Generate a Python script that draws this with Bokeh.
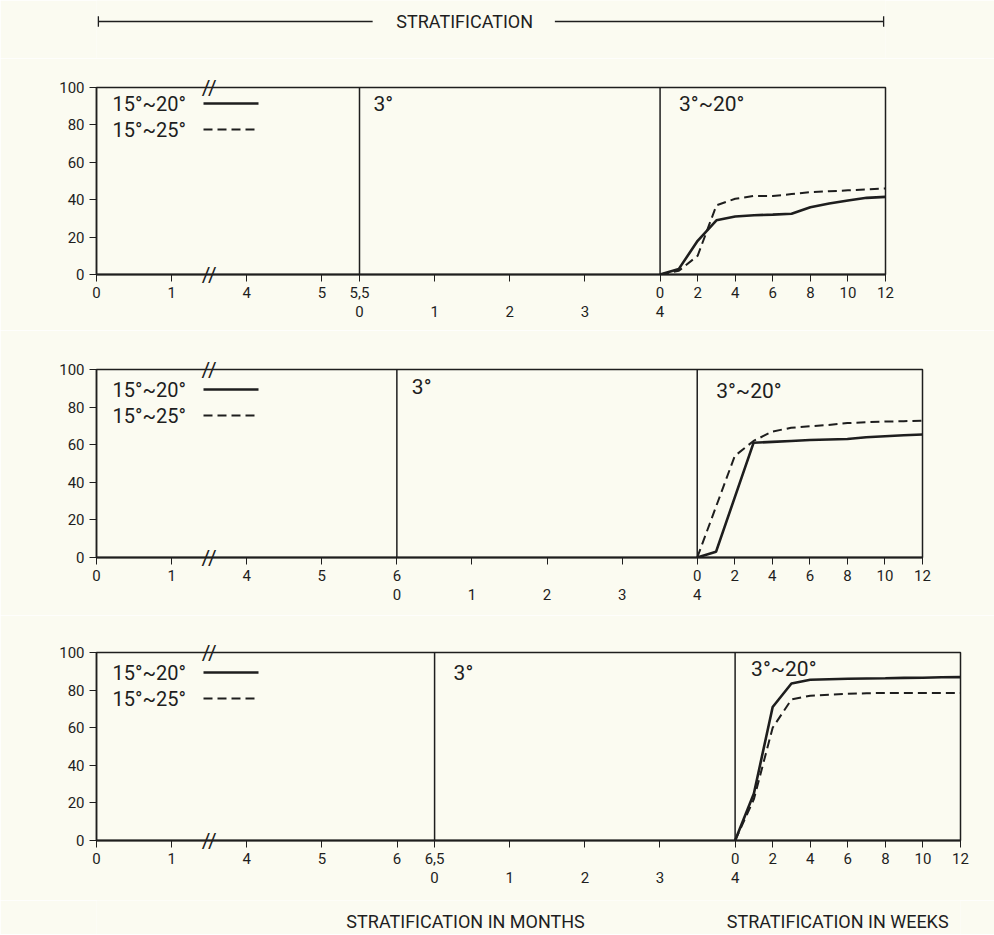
from bokeh.plotting import figure
from bokeh.models import Range1d, FixedTicker, LinearAxis, Span, Label, Arrow
from bokeh.layouts import column
from bokeh.embed import file_html
from bokeh.resources import INLINE

# ---------------- data (germinative capacity, %) ----------------
weeks = [0, 1, 2, 3, 4, 5, 6, 7, 8, 9, 10, 11, 12]

p1_solid = [0, 3, 18, 29, 31, 31.7, 32, 32.5, 36, 38, 39.6, 41, 41.5]
p1_dashed = [0, 2, 10, 37, 40.5, 42, 42, 43, 44, 44.5, 45, 45.5, 46]

p2_solid = [0, 3, 32, 61, 61.5, 62, 62.5, 62.8, 63, 64, 64.5, 65, 65.4]
p2_dashed = [0, 27, 54, 62, 67, 69, 69.8, 70.5, 71.5, 72, 72.3, 72.5, 72.8]

p3_solid = [0, 25, 71, 83.5, 85.5, 85.8, 86, 86.2, 86.3, 86.5, 86.6, 86.8, 86.9]
p3_dashed = [0, 22, 60, 75, 77, 77.5, 78, 78.3, 78.5, 78.5, 78.5, 78.5, 78.5]

# tick labels
months_a_1 = [0, 1, 4, 5, 5.5]
months_a_2 = [0, 1, 4, 5, 6]
months_a_3 = [0, 1, 4, 5, 6, 6.5]
months_b = [0, 1, 2, 3, 4]
week_ticks = [0, 2, 4, 6, 8, 10, 12]
y_ticks = [0, 20, 40, 60, 80, 100]

series_labels = ["15°~20°", "15°~25°"]
phase_labels = ["3°", "3°~20°"]
header_text = "STRATIFICATION"
footer_labels = ["STRATIFICATION IN MONTHS", "STRATIFICATION IN WEEKS"]

# ---------------- style ----------------
BG = "#fbfbf1"
INK = "#1e1e1e"
FONT = "Roboto"
PX = 18.78        # pixels per week unit (1 month = 4 week units)
LEFT = 96
TOTAL_W = 994


def a_pos(m, start):
    # month axis with a break between 1 and 4
    return float(start + 4 * (m if m <= 1 else m - 2))


def fmt(m):
    return str(int(m)) if m == int(m) else str(m).replace(".", ",")


def plain_axis(ticks, labels, standoff, size="15px"):
    return LinearAxis(ticker=FixedTicker(ticks=ticks),
                      major_label_overrides=dict(zip(ticks, labels)),
                      axis_line_color=None, major_tick_line_color=None,
                      minor_tick_line_color=None, major_tick_out=0, major_tick_in=0,
                      major_label_standoff=standoff, major_label_text_font=FONT,
                      major_label_text_font_size=size, major_label_text_color=INK)


def make_panel(months_a, solid, dashed, top, fh, bottom, legend_dy, phase_dy):
    la = 4 * (months_a[-1] - 2)
    start = -(la + 16)
    units = 12 - start
    fw = round(units * PX)
    p = figure(x_range=Range1d(start, 12), y_range=Range1d(0, 100),
               frame_width=fw, frame_height=fh,
               min_border_left=LEFT, min_border_right=TOTAL_W - LEFT - fw,
               min_border_top=top, min_border_bottom=bottom,
               toolbar_location=None, output_backend="svg",
               background_fill_color=BG, border_fill_color=BG,
               outline_line_color=INK, outline_line_width=1.5)
    p.grid.visible = False

    # main x axis: months (phase I), week ticks (phase III)
    b_pos = [float(-16 + 4 * m) for m in months_b]
    ticks = {}
    for pos in b_pos:
        ticks[pos] = ""
    for m in months_a:
        ticks[a_pos(m, start)] = fmt(m)
    for w in week_ticks:
        ticks[float(w)] = str(w)
    xa = p.xaxis[0]
    xa.ticker = FixedTicker(ticks=sorted(ticks))
    xa.major_label_overrides = ticks
    xa.minor_tick_line_color = None
    xa.major_tick_out = 7
    xa.major_tick_in = 0
    xa.major_label_standoff = 5
    xa.axis_line_color = INK
    xa.axis_line_width = 1.8
    xa.major_tick_line_color = INK
    xa.major_label_text_font = FONT
    xa.major_label_text_font_size = "15px"
    xa.major_label_text_color = INK

    # second row: months of phase II (3°)
    p.add_layout(plain_axis(b_pos, [str(m) for m in months_b], 5), "below")

    # axis-break marks on the bottom and top borders
    brk = [float(start + 6)]
    p.add_layout(plain_axis(brk, ["//"], -57, "21px"), "below")
    p.add_layout(plain_axis(brk, ["//"], -12, "21px"), "above")

    ya = p.yaxis[0]
    ya.ticker = FixedTicker(ticks=y_ticks)
    ya.minor_tick_line_color = None
    ya.major_tick_out = 7
    ya.major_tick_in = 0
    ya.major_label_standoff = 5
    ya.axis_line_color = INK
    ya.axis_line_width = 1.5
    ya.major_tick_line_color = INK
    ya.major_label_text_font = FONT
    ya.major_label_text_font_size = "15px"
    ya.major_label_text_color = INK

    # phase dividers
    for loc in (-16, 0):
        p.add_layout(Span(location=loc, dimension="height", line_color=INK, line_width=1.5))

    # curves
    p.line(weeks, solid, line_color=INK, line_width=2.6)
    p.line(weeks, dashed, line_color=INK, line_width=2, line_dash="9 5")

    # legend (label then key, as in the original)
    for i, (lab, dash, lw) in enumerate(zip(series_labels, ["solid", "9 5"], [2.6, 2])):
        yy = fh - legend_dy - 26 * i
        p.add_layout(Label(x=16, y=yy, x_units="screen", y_units="screen", text=lab,
                           text_baseline="middle", text_font=FONT,
                           text_font_size="20px", text_color=INK))
        p.add_layout(Arrow(x_start=107, y_start=yy, x_end=162, y_end=yy,
                           start_units="screen", end_units="screen", end=None,
                           line_color=INK, line_width=lw, line_dash=dash))

    # phase titles
    for loc, lab, (dx, dy) in zip((-16, 0), phase_labels, phase_dy):
        p.add_layout(Label(x=loc, x_offset=dx, y=fh - dy, y_units="screen", text=lab,
                           text_baseline="middle", text_font=FONT,
                           text_font_size="21px", text_color=INK))
    return p


def text_strip(x_start, height, y_text, texts, xs, size):
    units = 12 - x_start
    fw = round(units * PX)
    f = figure(x_range=Range1d(x_start, 12), y_range=Range1d(0, 1),
               frame_width=fw, frame_height=height,
               min_border_left=LEFT, min_border_right=TOTAL_W - LEFT - fw,
               min_border_top=0, min_border_bottom=0,
               x_axis_location=None, y_axis_location=None,
               toolbar_location=None, output_backend="svg",
               background_fill_color=BG, border_fill_color=BG, outline_line_color=None)
    f.grid.visible = False
    yy = 1 - y_text / height
    for x, t in zip(xs, texts):
        f.add_layout(Label(x=x, y=yy, text=t, text_align="center", text_baseline="middle",
                           text_font=FONT, text_font_size=size, text_color=INK))
    return f, yy


# header: STRATIFICATION with bracket line
h, hy = text_strip(-30, 58, 21, [header_text], [-10.4], "18px")
h.segment(x0=[-29.9, -5.6], y0=[hy, hy], x1=[-15.3, 11.9], y1=[hy, hy],
          line_color=INK, line_width=1.3)
h.segment(x0=[-29.9, 11.9], y0=[hy - 0.09, hy - 0.09], x1=[-29.9, 11.9], y1=[hy + 0.09, hy + 0.09],
          line_color=INK, line_width=1.3)

p1 = make_panel(months_a_1, p1_solid, p1_dashed, top=29, fh=187, bottom=56,
                legend_dy=16, phase_dy=[(14, 16), (19, 16)])
p2 = make_panel(months_a_2, p2_solid, p2_dashed, top=39, fh=188, bottom=58,
                legend_dy=20, phase_dy=[(15, 17), (19, 21)])
p3 = make_panel(months_a_3, p3_solid, p3_dashed, top=37, fh=188, bottom=60,
                legend_dy=20, phase_dy=[(19, 20), (16, 16)])

# footer: axis titles
foot, _ = text_strip(-34, 34, 21, footer_labels, [-14.35, 5.46], "18px")

layout = column(h, p1, p2, p3, foot, spacing=0)
open("out.html", "w").write(file_html(layout, INLINE))
